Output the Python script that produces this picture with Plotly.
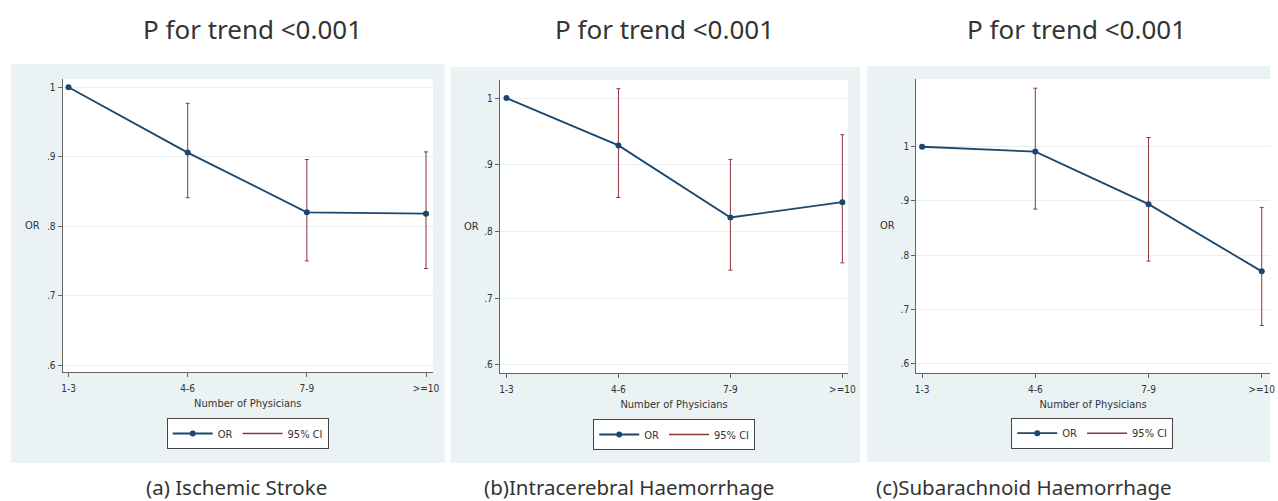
import plotly.graph_objects as go

# ---------------- data ----------------
categories = ["1-3", "4-6", "7-9", ">=10"]

or_a = [1.0, 0.906, 0.820, 0.818]
lo_a = [1.0, 0.841, 0.750, 0.739]
hi_a = [1.0, 0.977, 0.896, 0.907]

or_b = [1.0, 0.929, 0.821, 0.844]
lo_b = [1.0, 0.851, 0.742, 0.753]
hi_b = [1.0, 1.014, 0.908, 0.945]

or_c = [1.0, 0.991, 0.894, 0.770]
lo_c = [1.0, 0.885, 0.789, 0.670]
hi_c = [1.0, 1.108, 1.017, 0.888]

y_tickvals = [0.6, 0.7, 0.8, 0.9, 1.0]
y_ticktext = [".6", ".7", ".8", ".9", "1"]

titles_top = ["P for trend <0.001", "P for trend <0.001", "P for trend <0.001"]
captions = ["(a) Ischemic Stroke", "(b)Intracerebral Haemorrhage", "(c)Subarachnoid Haemorrhage"]

# ---------------- styling / layout ----------------
W, H = 1278, 501
NAVY = "#1a476f"
MAROON = "#90353b"
PANEL_BG = "#eaf2f3"
GRID = "#e6eff1"
AXIS = "#666666"
SMALL_FONT = "Liberation Sans Narrow, Arial Narrow, DejaVu Sans Condensed, sans-serif"
BIG_FONT = "Noto Sans, sans-serif"

def px_x(p):
    return p / W

def px_y(p):
    return 1 - p / H

panels = [
    dict(or_=or_a, lo=lo_a, hi=hi_a,
         plot=(62, 435, 79, 372), yr=(0.59, 1.012), xr=(-0.05, 3.058),
         bg=(10, 447, 64, 463), leg=(248.5, 418), title_x=253, cap_x=237, ytitle_x=32),
    dict(or_=or_b, lo=lo_b, hi=hi_b,
         plot=(502.3, 853.3, 80, 373), yr=(0.588, 1.027), xr=(-0.06, 3.053),
         bg=(453, 865, 67, 463), leg=(678, 419), title_x=668, cap_x=632, ytitle_x=474),
    dict(or_=or_c, lo=lo_c, hi=hi_c,
         plot=(921.7, 1278, 79, 372.7), yr=(0.583, 1.125), xr=(-0.052, 3.073),
         bg=(872, 1278, 66, 462), leg=(1099, 417.7), title_x=1083, cap_x=1030, ytitle_x=893),
]

fig = go.Figure()
shapes = []
annotations = []
layout_axes = {}

for i, p in enumerate(panels):
    n = "" if i == 0 else str(i + 1)
    xa, ya = "x" + n, "y" + n
    legname = "legend" + n
    err_plus = [h - o for h, o in zip(p["hi"], p["or_"])]
    err_minus = [o - l for o, l in zip(p["or_"], p["lo"])]

    # 95% CI caps (rcap)
    fig.add_trace(go.Scatter(
        x=categories, y=p["or_"], mode="markers",
        marker=dict(size=1, opacity=0),
        error_y=dict(type="data", symmetric=False, array=err_plus, arrayminus=err_minus,
                     color=MAROON, thickness=1, width=2),
        xaxis=xa, yaxis=ya, showlegend=False, hoverinfo="skip"))
    # OR line
    fig.add_trace(go.Scatter(
        x=categories, y=p["or_"], mode="lines+markers", name="OR",
        line=dict(color=NAVY, width=1.8), marker=dict(color=NAVY, size=6),
        xaxis=xa, yaxis=ya, legend=legname))
    # legend-only entry for CI
    fig.add_trace(go.Scatter(
        x=[None], y=[None], mode="lines", name="95% CI",
        line=dict(color=MAROON, width=1.5),
        xaxis=xa, yaxis=ya, legend=legname))

    l, r, t, b = p["plot"]
    layout_axes["xaxis" + n] = dict(
        domain=[px_x(l), min(1.0, px_x(r))], anchor=ya, type="category",
        range=list(p["xr"]), showline=True, linecolor=AXIS, linewidth=1,
        ticks="outside", ticklen=4, tickcolor=AXIS, showgrid=False, zeroline=False,
        ticklabelstandoff=3,
        tickfont=dict(family=SMALL_FONT, size=10, color="#333333"),
        title=dict(text="Number of Physicians", standoff=6,
                   font=dict(family=SMALL_FONT, size=11, color="#333333")),
        fixedrange=True)
    layout_axes["yaxis" + n] = dict(
        domain=[px_y(b), px_y(t)], anchor=xa, range=list(p["yr"]),
        tickvals=y_tickvals, ticktext=y_ticktext,
        showline=True, linecolor=AXIS, linewidth=1,
        ticks="outside", ticklen=4, tickcolor=AXIS,
        showgrid=True, gridcolor=GRID, gridwidth=1, zeroline=False,
        tickfont=dict(family=SMALL_FONT, size=10, color="#333333"),
        fixedrange=True)

    # horizontal y-axis title "OR"
    annotations.append(dict(text="OR", xref="paper", yref="paper",
                            x=px_x(p["ytitle_x"]), y=px_y((t + b) / 2),
                            xanchor="center", yanchor="middle", showarrow=False,
                            font=dict(family=SMALL_FONT, size=11, color="#333333")))

    lx, ly = p["leg"]
    layout_axes[legname] = dict(
        x=px_x(lx), xanchor="center", y=px_y(ly), yanchor="top",
        orientation="h", bgcolor="white", bordercolor="#444444", borderwidth=1,
        font=dict(family=SMALL_FONT, size=11, color="#333333"),
        itemwidth=40)

    bl, br, bt, bb = p["bg"]
    shapes.append(dict(type="rect", xref="paper", yref="paper",
                       x0=px_x(bl), x1=px_x(br), y0=px_y(bb), y1=px_y(bt),
                       fillcolor=PANEL_BG, line=dict(width=0), layer="below"))
    # white plot region on top of the panel background
    shapes.append(dict(type="rect", xref="paper", yref="paper",
                       x0=px_x(l), x1=min(1.0, px_x(r)), y0=px_y(b), y1=px_y(t),
                       fillcolor="white", line=dict(width=0), layer="below"))

    annotations.append(dict(text=titles_top[i], xref="paper", yref="paper",
                            x=px_x(p["title_x"]), y=px_y(29), xanchor="center", yanchor="middle",
                            showarrow=False, font=dict(family=BIG_FONT, size=26, color="#333333")))
    annotations.append(dict(text=captions[i], xref="paper", yref="paper",
                            x=px_x(p["cap_x"]), y=px_y(487), xanchor="center", yanchor="middle",
                            showarrow=False, font=dict(family=BIG_FONT, size=20.5, color="#333333")))

fig.update_layout(
    width=W, height=H, margin=dict(l=0, r=0, t=0, b=0),
    paper_bgcolor="white", plot_bgcolor="white",
    shapes=shapes, annotations=annotations, hovermode=False,
    **layout_axes)

fig.write_html("out.html", config={"displayModeBar": False},
               post_script="document.body.style.margin='0';document.body.style.padding='0';")
